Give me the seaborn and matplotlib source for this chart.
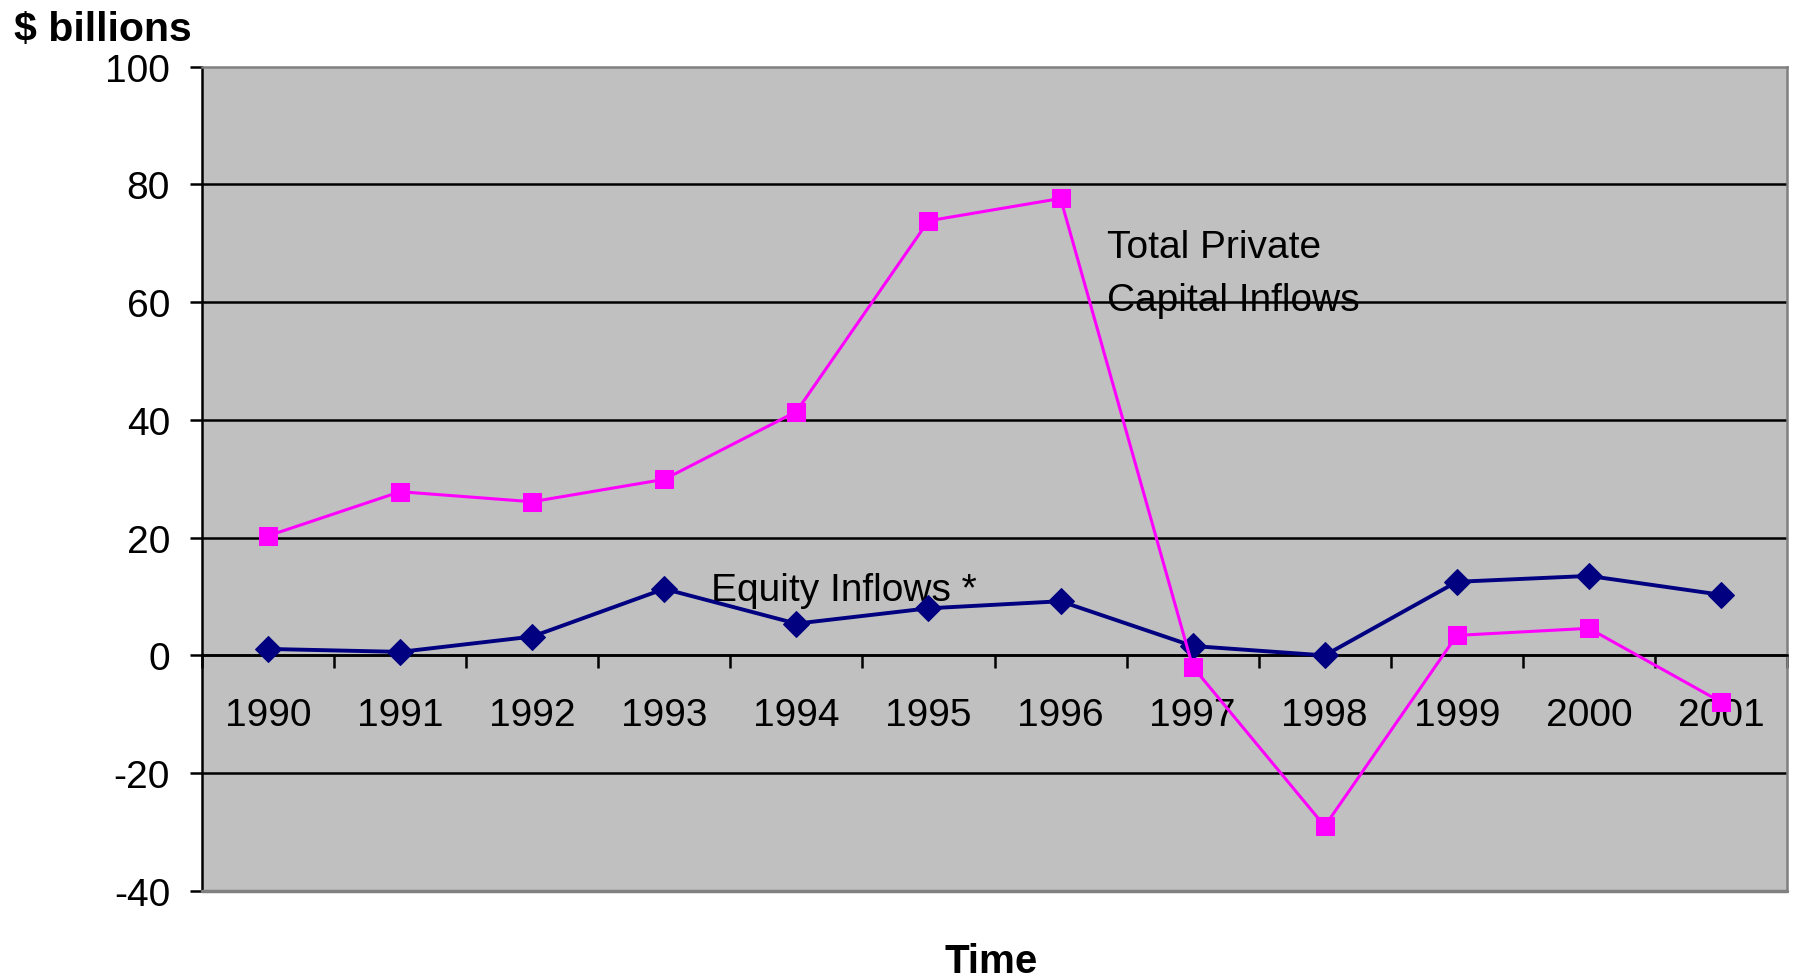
import matplotlib
matplotlib.use("Agg")
import matplotlib.pyplot as plt
import seaborn as sns
import pandas as pd
import numpy as np

years = ["1990", "1991", "1992", "1993", "1994", "1995", "1996",
         "1997", "1998", "1999", "2000", "2001"]
total_private = [20.3, 27.8, 26.1, 29.9, 41.4, 73.8, 77.6, -1.9, -29.0, 3.4, 4.6, -7.9]
equity = [1.1, 0.6, 3.2, 11.3, 5.4, 8.0, 9.2, 1.6, 0.0, 12.5, 13.5, 10.3]
y_ticks = [-40, -20, 0, 20, 40, 60, 80, 100]

sns.set_theme(style="white")
plt.rcParams["font.family"] = ["Liberation Sans", "DejaVu Sans"]
plt.rcParams["text.color"] = "black"
plt.rcParams["xtick.color"] = "black"
plt.rcParams["ytick.color"] = "black"
plt.rcParams["xtick.labelcolor"] = "black"
plt.rcParams["ytick.labelcolor"] = "black"

df = pd.DataFrame({"idx": np.arange(len(years)), "year": years,
                   "total": total_private, "equity": equity})

fig = plt.figure(figsize=(17.94, 9.79), dpi=100)
ax = fig.add_axes([0.1126, 0.0889, 0.9961 - 0.1126, 0.931 - 0.0889])
ax.set_facecolor("#C0C0C0")

for yv in y_ticks[1:-1]:
    ax.axhline(yv, color="black", lw=1.8, zorder=1)

sns.lineplot(data=df, x="idx", y="equity", color="#000080", lw=2.8,
             marker="D", markersize=13, markeredgecolor="#000080",
             ax=ax, legend=False, zorder=3)
sns.lineplot(data=df, x="idx", y="total", color="#FF00FF", lw=2.2,
             marker="s", markersize=13.5, markeredgecolor="#FF00FF",
             ax=ax, legend=False, zorder=4)

ax.set_xlim(-0.5, len(years) - 0.5)
ax.set_ylim(-40, 100)
ax.set_yticks(y_ticks)
ax.set_yticklabels([str(v) for v in y_ticks], fontsize=28)

# category axis crossing at zero
ax.spines["bottom"].set_position(("data", 0))
ax.spines["bottom"].set_color("black")
ax.spines["bottom"].set_linewidth(1.8)
ax.spines["left"].set_color("black")
ax.spines["left"].set_linewidth(1.8)
ax.spines["top"].set_color("#808080")
ax.spines["top"].set_linewidth(1.8)
ax.spines["right"].set_color("#808080")
ax.spines["right"].set_linewidth(1.8)
ax.axhline(-40, color="#808080", lw=2.5, clip_on=False, zorder=5)

ax.set_xticks(np.arange(len(years)))
ax.set_xticklabels(years, fontsize=28)
ax.set_xticks(np.arange(len(years) + 1) - 0.5, minor=True)
ax.tick_params(axis="x", which="major", length=0, pad=30)
ax.tick_params(axis="x", which="minor", length=9, width=1.8, color="black",
               direction="out", bottom=True)
ax.tick_params(axis="y", which="major", length=9, width=1.8, color="black",
               direction="out", left=True, pad=14)
ax.set_xlabel("")
ax.set_ylabel("")
ax.grid(False)

ax.text(6.35, 64.9, "Total Private\nCapital Inflows", fontsize=28,
        va="center", ha="left", linespacing=1.6, zorder=6, color="black")
ax.text(3.35, 11.1, "Equity Inflows *", fontsize=28, va="center",
        ha="left", zorder=2, color="black")

fig.text(14 / 1794, 1 - 30 / 979, "$ billions", fontsize=29.5,
         fontweight="bold", va="center", ha="left", color="black")
fig.text(991 / 1794, 1 - 962 / 979, "Time", fontsize=29,
         fontweight="bold", va="center", ha="center", color="black")

fig.savefig("out.png", dpi=100)
